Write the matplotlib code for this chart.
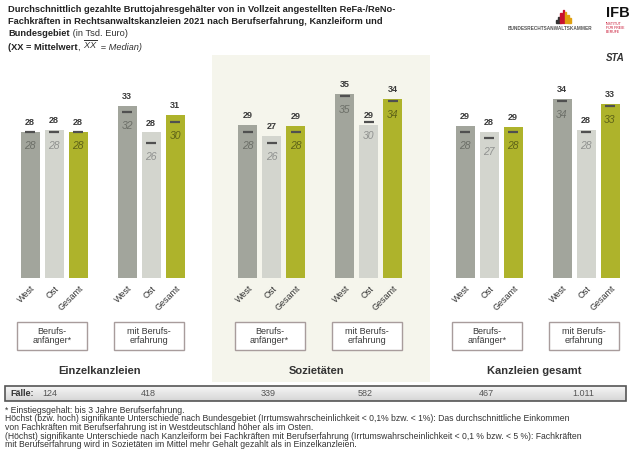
import numpy as np
import matplotlib
matplotlib.use("Agg")
import matplotlib.pyplot as plt
from matplotlib.patches import Rectangle

plt.rcParams['font.family'] = ['Liberation Sans', 'DejaVu Sans']
plt.rcParams['mathtext.fontset'] = 'custom'
plt.rcParams['mathtext.it'] = 'Liberation Sans:italic'
plt.rcParams['mathtext.rm'] = 'Liberation Sans'

# Daten (Tsd. Euro): je Gruppe West / Ost / Gesamt
sections = ["Einzelkanzleien", "Sozietäten", "Kanzleien gesamt"]
groups = ["Berufs-\nanfänger*", "mit Berufs-\nerfahrung"]
regions = ["West", "Ost", "Gesamt"]
means = [
    [28.1, 28.5, 28.1], [33.1, 28.0, 31.4],   # Einzelkanzleien
    [29.4, 27.4, 29.2], [35.4, 29.4, 34.4],   # Sozietäten
    [29.2, 28.1, 29.1], [34.4, 28.4, 33.4],   # Kanzleien gesamt
]
mean_labels = [[28, 28, 28], [33, 28, 31], [29, 27, 29],
               [35, 29, 34], [29, 28, 29], [34, 28, 33]]
medians = [[28, 28, 28], [32, 26, 30], [28, 26, 28],
           [35, 30, 34], [28, 27, 28], [34, 28, 33]]
cases = ["124", "418", "339", "582", "467", "1.011"]
logo_bars = [2, 4, 6, 8, 7, 5, 3]

footnotes = [
    "* Einstiegsgehalt: bis 3 Jahre Berufserfahrung.",
    "Höchst (bzw. hoch) signifikante Unterschiede nach Bundesgebiet (Irrtumswahrscheinlichkeit < 0,1% bzw. < 1%): Das durchschnittliche Einkommen",
    "von Fachkräften mit Berufserfahrung ist in Westdeutschland höher als im Osten.",
    "(Höchst) signifikante Unterschiede nach Kanzleiform bei Fachkräften mit Berufserfahrung (Irrtumswahrscheinlichkeit < 0,1 % bzw. < 5 %): Fachkräften",
    "mit Berufserfahrung wird in Sozietäten im Mittel mehr Gehalt gezahlt als in Einzelkanzleien.",
]

bar_colors = ["#a2a59c", "#d3d5ce", "#aeb32b"]
median_text_colors = ["#6c6f68", "#909290", "#5f6318"]

W, H = 629, 461
fig = plt.figure(figsize=(W / 100, H / 100), dpi=100)

# Hintergrund-Achse in Pixelkoordinaten
bg = fig.add_axes([0, 0, 1, 1])
bg.set_xlim(0, W)
bg.set_ylim(H, 0)
bg.axis("off")

# Balken-Achse: Nulllinie bei y=278 px, 5.2 px pro Tsd. Euro
y0, ytop, px_per_unit = 278, 55, 5.2
ax = fig.add_axes([0, (H - y0) / H, 1, (y0 - ytop) / H])
ax.set_xlim(0, W)
ax.set_ylim(0, (y0 - ytop) / px_per_unit)
ax.axis("off")
ax.patch.set_alpha(0)

# Gruppen-Mittelpunkte
group_centers = []
for s in range(len(sections)):
    for g in range(len(groups)):
        group_centers.append(54 + s * 217.5 + g * 97)
bar_step, bar_w = 24, 19

# Sozietäten-Hintergrund
bg.add_patch(Rectangle((212, 55), 218, 327, facecolor="#f5f5ec", edgecolor="none", zorder=0))

for gi, gc in enumerate(group_centers):
    for r in range(3):
        x = gc + (r - 1) * bar_step
        ax.bar(x, means[gi][r], width=bar_w, color=bar_colors[r], zorder=2)
        ax.annotate(str(mean_labels[gi][r]), (x, means[gi][r]), xytext=(0, 3.5),
                    textcoords="offset points", ha="center", va="bottom",
                    fontsize=6.5, fontweight="bold", color="#3a3a3a")
        ax.hlines(medians[gi][r], x - 5, x + 5, color="#505050", lw=1.6, zorder=3)
        ax.annotate(str(medians[gi][r]), (x, medians[gi][r]), xytext=(0, -6.5),
                    textcoords="offset points", ha="center", va="top",
                    fontsize=7.5, style="italic", color=median_text_colors[r], zorder=4)
        bg.text(x + 4, 287, regions[r], rotation=45, rotation_mode="anchor",
                ha="right", va="center", fontsize=6.5, color="#333333")
    # Kategorie-Kasten
    bg.add_patch(Rectangle((gc - 37, 322), 70, 28, facecolor="white",
                           edgecolor="#a89c9c", lw=1, zorder=1))
    bg.text(gc - 2, 336, groups[gi % 2], ha="center", va="center",
            fontsize=6.5, color="#3a3a3a", linespacing=1.1)

for s, name in enumerate(sections):
    cx = (group_centers[2 * s] + group_centers[2 * s + 1]) / 2 - 3
    bg.text(cx, 371, name, ha="center", va="center", fontsize=8,
            fontweight="bold", color="#333333")

# Fälle-Leiste mit Verlauf
grad = np.linspace(0.96, 0.84, 20).reshape(-1, 1)
bg.imshow(grad, extent=(5, 626, 401, 386), cmap="gray", vmin=0, vmax=1,
          aspect="auto", zorder=1)
bg.add_patch(Rectangle((5, 386), 621, 15, facecolor="none", edgecolor="#555555",
                       lw=1.2, zorder=2))
bg.set_xlim(0, W)
bg.set_ylim(H, 0)
bg.text(10, 393.5, "Fälle:", fontsize=6.5, fontweight="bold", color="#333333",
        va="center", zorder=3)
for gi, gc in enumerate(group_centers):
    xx = 50 if gi == 0 else gc - 3
    bg.text(xx, 393.5, cases[gi], fontsize=6.5, color="#555555", ha="center",
            va="center", zorder=3)

for i, line in enumerate(footnotes):
    bg.text(5, 410 + i * 8.7, line, fontsize=6.2, color="#333333", va="center")

# Titel
fs_title = 6.65
title_lines = [
    "Durchschnittlich gezahlte Bruttojahresgehälter von in Vollzeit angestellten ReFa-/ReNo-",
    "Fachkräften in Rechtsanwaltskanzleien 2021 nach Berufserfahrung, Kanzleiform und",
]
for i, line in enumerate(title_lines):
    bg.text(8, 9 + i * 12.3, line, fontsize=fs_title, fontweight="bold", color="#222222", va="center")
t = bg.text(8, 33.6, "Bundesgebiet", fontsize=fs_title, fontweight="bold", color="#222222", va="center")
bg.annotate(" (in Tsd. Euro)", xy=(1, 0), xycoords=t, va="bottom", fontsize=fs_title, color="#333333")
t = bg.text(8, 47, "(XX = Mittelwert", fontsize=fs_title, fontweight="bold", color="#222222", va="center")
t = bg.annotate(", ", xy=(1, 0), xycoords=t, va="bottom", fontsize=fs_title, color="#333333")
t = bg.annotate(r"$\overline{XX}$", xy=(1, 0), xycoords=t, va="bottom", fontsize=fs_title, color="#333333")
bg.annotate(" = Median)", xy=(1, 0), xycoords=t, va="bottom", fontsize=fs_title,
            style="italic", color="#333333")

# Logos (angedeutet)
logo_colors = ["#333333", "#333333", "#c8102e", "#c8102e", "#e0a010", "#e0a010", "#e0a010"]
for i, h in enumerate(logo_bars):
    bg.add_patch(Rectangle((556 + i * 2.2, 23 - h * 1.6), 1.6, h * 1.6, color=logo_colors[i]))
bg.text(550, 28.5, "BUNDESRECHTSANWALTSKAMMER", fontsize=3.4, ha="center",
        va="center", color="#555555", fontweight="bold")
bg.text(606, 13, "IFB", fontsize=10.5, fontweight="bold", color="#111111", va="center")
bg.text(606, 28, "INSTITUT\nFÜR FREIE\nBERUFE", fontsize=2.5, color="#c8102e",
        va="center", linespacing=1.0)
bg.text(606, 58, "STA", fontsize=7, fontweight="bold", style="italic",
        color="#333333", va="center")

fig.savefig("out.png", dpi=100)
